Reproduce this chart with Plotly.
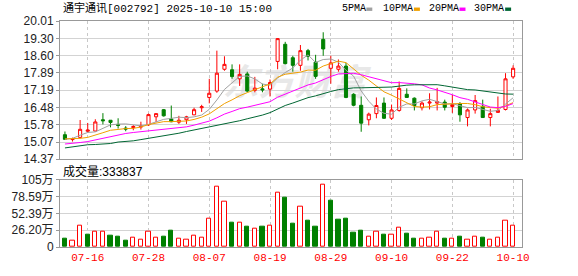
import plotly.graph_objects as go
import pandas as pd

# ---------------- data ----------------
dates = ["07-11", "07-14", "07-15", "07-16", "07-17", "07-18", "07-21", "07-22", "07-23", "07-24",
         "07-25", "07-28", "07-29", "07-30", "07-31", "08-01", "08-04", "08-05", "08-06", "08-07",
         "08-08", "08-11", "08-12", "08-13", "08-14", "08-15", "08-18", "08-19", "08-20", "08-21",
         "08-22", "08-25", "08-26", "08-27", "08-28", "08-29", "09-01", "09-02", "09-03", "09-04",
         "09-05", "09-08", "09-09", "09-10", "09-11", "09-12", "09-15", "09-16", "09-17", "09-18",
         "09-19", "09-22", "09-23", "09-24", "09-25", "09-26", "09-29", "09-30", "10-09", "10-10"]

opens = [15.37, 15.17, 15.26, 15.51, 15.52, 15.98, 15.96, 15.79, 15.64, 15.66,
         15.68, 15.77, 16.10, 16.39, 16.01, 15.88, 15.98, 16.18, 16.47, 16.89,
         17.15, 18.04, 18.02, 17.65, 17.85, 17.18, 17.24, 17.23, 18.36, 19.06,
         18.51, 18.20, 18.80, 18.33, 19.26, 18.08, 18.04, 18.17, 17.02, 16.57,
         15.98, 16.23, 16.66, 16.04, 16.36, 17.02, 16.86, 16.47, 16.66, 16.66,
         16.70, 16.52, 16.63, 16.07, 16.38, 16.53, 16.07, 16.28, 16.40, 17.73]
highs = [15.50, 15.25, 15.97, 15.85, 16.00, 16.25, 15.96, 16.04, 15.72, 15.76,
         15.90, 16.23, 16.23, 16.42, 16.56, 16.14, 16.14, 16.47, 16.59, 17.65,
         18.80, 18.57, 18.24, 18.24, 17.94, 17.73, 17.45, 17.62, 19.31, 19.16,
         18.59, 19.03, 18.87, 18.63, 19.55, 18.59, 18.44, 18.30, 17.06, 16.93,
         16.27, 16.89, 16.89, 16.60, 17.54, 17.26, 16.89, 16.73, 17.06, 17.28,
         16.80, 16.99, 16.70, 16.44, 16.99, 16.80, 16.43, 16.93, 17.88, 18.20]
lows = [15.17, 15.09, 15.22, 15.45, 15.51, 15.79, 15.67, 15.62, 15.51, 15.55,
        15.58, 15.73, 15.88, 16.11, 15.88, 15.81, 15.81, 16.17, 16.30, 16.65,
        17.08, 17.98, 17.65, 17.36, 17.10, 17.10, 17.10, 16.93, 18.04, 18.24,
        17.94, 17.98, 18.40, 17.65, 18.59, 17.45, 17.94, 16.86, 16.53, 15.49,
        15.75, 16.04, 16.01, 15.97, 16.31, 16.89, 16.36, 16.36, 16.40, 16.36,
        16.36, 16.26, 15.90, 15.71, 16.23, 16.07, 15.71, 16.28, 16.36, 17.65]
closes = [15.18, 15.21, 15.59, 15.56, 15.89, 15.94, 15.87, 15.75, 15.60, 15.70,
          15.72, 16.19, 16.23, 16.14, 15.90, 15.96, 16.10, 16.39, 16.51, 17.06,
          17.88, 18.24, 17.74, 17.83, 17.15, 17.27, 17.20, 17.50, 19.29, 18.27,
          18.20, 18.80, 18.57, 17.75, 18.87, 18.30, 18.17, 16.89, 16.57, 15.84,
          16.21, 16.56, 16.04, 16.38, 17.26, 16.89, 16.56, 16.66, 16.70, 16.72,
          16.49, 16.60, 16.18, 16.38, 16.76, 16.07, 16.23, 16.36, 17.65, 18.08]
# volume in 万 (10k) units
volumes = [12.8, 9.8, 33.4, 18.8, 24.4, 24.4, 17.3, 15.8, 9.8, 13.8,
           11.3, 23.4, 13.8, 15.8, 24.9, 13.3, 11.3, 18.3, 13.8, 44.0,
           93.7, 71.1, 38.4, 37.9, 30.9, 28.9, 32.4, 33.9, 84.7, 76.1,
           36.9, 62.6, 41.5, 30.9, 96.7, 71.6, 43.0, 44.5, 21.9, 24.9,
           15.3, 24.4, 18.8, 18.8, 30.4, 20.4, 12.3, 12.3, 13.8, 24.4,
           12.3, 12.3, 15.3, 10.8, 16.8, 13.8, 10.8, 13.8, 41.0, 33.3837]

# moving-average values at the left edge (before full windows exist)
ma5_head = [15.18, 15.22, 15.35, 15.46]
ma10_head = [15.20, 15.20, 15.22, 15.26, 15.34, 15.45, 15.55, 15.60, 15.62]
ma20_head = [14.99, 15.01, 15.05, 15.09, 15.16, 15.24, 15.30, 15.37, 15.42, 15.46,
             15.49, 15.52, 15.55, 15.58, 15.60, 15.64, 15.69, 15.76, 15.84]
ma30_head = [14.83, 14.88, 14.93, 14.96, 14.97, 14.99, 15.01, 15.07, 15.09, 15.12,
             15.17, 15.22, 15.27, 15.33, 15.38, 15.43, 15.50, 15.56, 15.63, 15.68,
             15.73, 15.80, 15.87, 15.94, 16.02, 16.09, 16.17, 16.27, 16.42]

price_tick_labels = ["20.01", "19.30", "18.60", "17.89", "17.19", "16.48", "15.78", "15.07", "14.37"]
vol_tick_values = [0, 26.195, 52.39, 78.585, 104.78]
vol_tick_labels = ["0", "26.20万", "52.39万", "78.59万", "105万"]
date_tick_labels = ["07-16", "07-28", "08-07", "08-19", "08-29", "09-10", "09-22", "10-10"]

title_text = "通宇通讯[002792] 2025-10-10 15:00"
ma_names = ["5PMA", "10PMA", "20PMA", "30PMA"]
ma_periods = [5, 10, 20, 30]

# ---------------- styles ----------------
RED = "#ff0000"
GREEN = "#008000"
MA_COLORS = ["#a0a0a0", "#f0a000", "#ff00ff", "#006633"]
GRID = "#d3d3d3"
FRAME = "#999999"

W, H = 578, 276
ML, MR, MT, MB = 56, 56, 21, 20
PH = H - MT - MB
PW = W - ML - MR


def py(pix_y):  # pixel from top -> paper y
    return (H - MB - pix_y) / PH


def px(pix_x):
    return (pix_x - ML) / PW


n = len(dates)
xi = list(range(n))
cl = pd.Series(closes)
heads = [ma5_head, ma10_head, ma20_head, ma30_head]
ma_lines = []
for p, head in zip(ma_periods, heads):
    roll = cl.rolling(p).mean().tolist()
    ma_lines.append(head + roll[len(head):])

vol_colors = []
for i in range(n):
    up = closes[i] >= closes[i - 1] if i > 0 else closes[i] >= opens[i]
    vol_colors.append(RED if up else GREEN)
vol_fill = ["white" if c == RED else GREEN for c in vol_colors]

fig = go.Figure()
fig.add_trace(go.Candlestick(
    x=xi, open=opens, high=highs, low=lows, close=closes,
    increasing=dict(line=dict(color=RED, width=1), fillcolor="white"),
    decreasing=dict(line=dict(color=GREEN, width=1), fillcolor=GREEN),
    whiskerwidth=0, xaxis="x", yaxis="y", showlegend=False, hoverinfo="skip"))
for name, col, vals in zip(ma_names, MA_COLORS, ma_lines):
    fig.add_trace(go.Scatter(x=xi, y=vals, mode="lines", name=name,
                             line=dict(color=col, width=1), xaxis="x", yaxis="y",
                             showlegend=False, hoverinfo="skip"))
fig.add_trace(go.Bar(x=xi, y=volumes, width=0.56,
                     marker=dict(color=vol_fill, line=dict(color=vol_colors, width=1)),
                     xaxis="x2", yaxis="y2", showlegend=False, hoverinfo="skip"))

tickvals_x = [dates.index(d) for d in date_tick_labels]
xr = [-0.65, 60.17]
main_top, main_bot = 21, 164.7
vol_top, vol_bot = 186, 256

common_x = dict(range=xr, showgrid=True, gridcolor="#c8c8c8", griddash="3px,3px", gridwidth=1,
                tickvals=tickvals_x, showline=True, mirror=True, linecolor=FRAME,
                linewidth=1, zeroline=False, ticks="", fixedrange=True)
fig.update_layout(
    width=W, height=H, margin=dict(l=ML, r=MR, t=MT, b=MB),
    paper_bgcolor="white", plot_bgcolor="white", boxgap=0.42,
    xaxis=dict(**common_x, domain=[0, 1], anchor="y", showticklabels=False,
               rangeslider=dict(visible=False)),
    xaxis2=dict(**common_x, domain=[0, 1], anchor="y2", showticklabels=True,
                ticktext=date_tick_labels,
                tickfont=dict(family="Liberation Mono", size=11, color=RED)),
    yaxis=dict(domain=[py(main_bot), py(main_top)], range=[14.37, 20.01],
               tickvals=[float(t) for t in price_tick_labels], ticktext=price_tick_labels,
               showgrid=True, gridcolor=GRID, gridwidth=1, zeroline=False,
               showline=True, mirror=True, linecolor=FRAME, ticks="outside", ticklen=3,
               tickcolor=FRAME, tickfont=dict(family="Liberation Sans", size=12, color="#222"),
               fixedrange=True),
    yaxis2=dict(domain=[0, py(vol_top)], range=[0, 104.78],
                tickvals=vol_tick_values, ticktext=vol_tick_labels,
                showgrid=True, gridcolor=GRID, gridwidth=1, zeroline=False,
                showline=True, mirror=True, linecolor=FRAME, ticks="outside", ticklen=3,
                tickcolor=FRAME,
                tickfont=dict(family="Liberation Sans, Noto Sans CJK SC", size=12, color="#222"),
                fixedrange=True),
    bargap=0,
)

annotations = []
shapes = []
# title
annotations.append(dict(xref="paper", yref="paper", x=px(57), y=py(8.5), xanchor="left",
                        yanchor="middle", showarrow=False, text=title_text,
                        font=dict(family="Liberation Mono, Noto Sans CJK SC", size=11, color="#000")))
# MA legend (text then coloured swatch)
leg_x = [338, 380, 426, 472]
for name, col, lx in zip(ma_names, MA_COLORS, leg_x):
    annotations.append(dict(xref="paper", yref="paper", x=px(lx), y=py(8.5), xanchor="left",
                            yanchor="middle", showarrow=False, text=name,
                            font=dict(family="Liberation Mono", size=10, color="#000")))
    sx = lx + len(name) * 6 + 3
    shapes.append(dict(type="rect", xref="paper", yref="paper", x0=px(sx), x1=px(sx + 6),
                       y0=py(10.5), y1=py(7), fillcolor=col, line=dict(width=0)))
# volume label
annotations.append(dict(xref="paper", yref="paper", x=px(57), y=py(178), xanchor="left",
                        yanchor="middle", showarrow=False,
                        text="成交量:" + str(int(round(volumes[-1] * 10000))),
                        font=dict(family="Liberation Sans, Noto Sans CJK SC", size=12, color="#000")))
# watermark
shapes.append(dict(type="rect", xref="paper", yref="paper", layer="below",
                   x0=px(205), x1=px(380), y0=py(110), y1=py(65),
                   line=dict(width=0), fillcolor="rgba(0,0,0,0)",
                   label=dict(text="<b><i>东方财富</i></b>", textposition="middle center",
                              font=dict(family="Noto Sans CJK SC", size=36, color="#e8e8e8"))))
fig.update_layout(annotations=annotations, shapes=shapes)

fig.write_html("out.html")
